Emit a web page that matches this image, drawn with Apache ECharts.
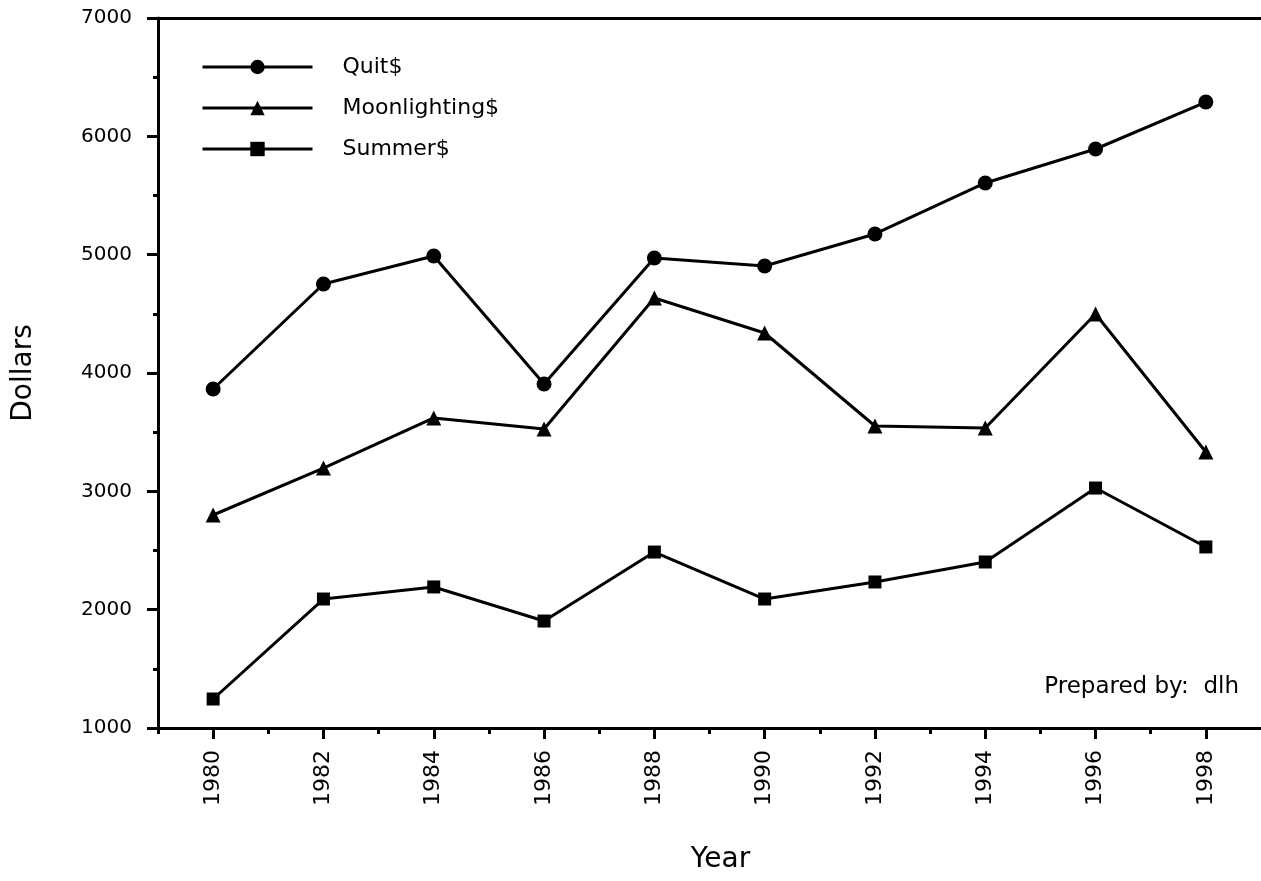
<!DOCTYPE html>
<html>
<head>
<meta charset="utf-8">
<script src="https://cdn.jsdelivr.net/npm/echarts@6/dist/echarts.min.js"></script>
<style>
  html, body { margin: 0; padding: 0; background: #fff; }
  #chart { width: 1261px; height: 881px; }
</style>
</head>
<body>
<div id="chart"></div>
<script>
const years = [1980, 1982, 1984, 1986, 1988, 1990, 1992, 1994, 1996, 1998];
const quit = [3865, 4752, 4989, 3907, 4972, 4904, 5175, 5606, 5893, 6290];
const moonlighting = [2800, 3197, 3620, 3527, 4634, 4338, 3552, 3535, 4499, 3332];
const summer = [1245, 2090, 2192, 1904, 2487, 2090, 2234, 2403, 3028, 2530];
const minorYears = [1979, 1981, 1983, 1985, 1987, 1989, 1991, 1993, 1995, 1997];

const font = 'DejaVu Sans, sans-serif';
const pair = arr => years.map((y, i) => [y, arr[i]]);

const chart = echarts.init(document.getElementById('chart'));

const lineSeries = (name, data, symbol, size) => ({
    name: name,
    type: 'line',
    data: pair(data),
    symbol: symbol,
    symbolSize: size,
    xAxisIndex: 0,
    lineStyle: {color: '#000', width: 3},
    itemStyle: {color: '#000'}
});

chart.setOption({
    animation: false,
    grid: {left: 158, right: -3, top: 18, bottom: 153},
    legend: {
        left: 196,
        top: 51,
        orient: 'vertical',
        itemWidth: 110,
        itemHeight: 18,
        itemGap: 19,
        lineStyle: {width: 3},
        textStyle: {fontFamily: font, fontSize: 22, lineHeight: 22, color: '#000', padding: [0, 0, 0, 25]},
        data: ['Quit$', 'Moonlighting$', 'Summer$']
    },
    xAxis: [
        {
            type: 'value',
            min: 1979, max: 1999,
            interval: 1,
            axisLine: {lineStyle: {color: '#000', width: 3}},
            axisTick: {customValues: years, length: 11, lineStyle: {color: '#000', width: 3}},
            axisLabel: {
                customValues: years,
                formatter: v => String(v),
                rotate: 90,
                margin: 22,
                fontFamily: font, fontSize: 22, color: '#000'
            },
            splitLine: {show: false},
            name: 'Year',
            nameLocation: 'middle',
            nameGap: 118,
            nameTextStyle: {fontFamily: font, fontSize: 28, color: '#000', padding: [0, 0, 0, 22]}
        },
        {
            type: 'value',
            min: 1979, max: 1999,
            interval: 1,
            position: 'bottom',
            axisLine: {show: false},
            axisTick: {customValues: minorYears, length: 6, lineStyle: {color: '#000', width: 3}},
            axisLabel: {show: false},
            splitLine: {show: false}
        },
        {
            type: 'value',
            min: 1979, max: 1999,
            position: 'top',
            axisLine: {lineStyle: {color: '#000', width: 3}},
            axisTick: {show: false},
            axisLabel: {show: false},
            splitLine: {show: false}
        }
    ],
    yAxis: {
        type: 'value',
        min: 1000, max: 7000,
        interval: 1000,
        axisLine: {show: true, lineStyle: {color: '#000', width: 3}},
        axisTick: {show: true, length: 11, lineStyle: {color: '#000', width: 3}},
        minorTick: {show: true, splitNumber: 2, length: 5, lineStyle: {color: '#000', width: 3}},
        axisLabel: {margin: 26, formatter: v => String(v), fontFamily: font, fontSize: 20, color: '#000'},
        splitLine: {show: false},
        name: 'Dollars',
        nameLocation: 'middle',
        nameGap: 120,
        nameTextStyle: {fontFamily: font, fontSize: 28, color: '#000'}
    },
    graphic: [{
        type: 'text',
        right: 22,
        top: 676,
        style: {text: 'Prepared by:  dlh', fontFamily: font, fontSize: 23, fill: '#000'}
    }],
    series: [
        lineSeries('Quit$', quit, 'circle', 15),
        lineSeries('Moonlighting$', moonlighting, 'triangle', 15),
        lineSeries('Summer$', summer, 'rect', 13)
    ]
});
</script>
</body>
</html>
